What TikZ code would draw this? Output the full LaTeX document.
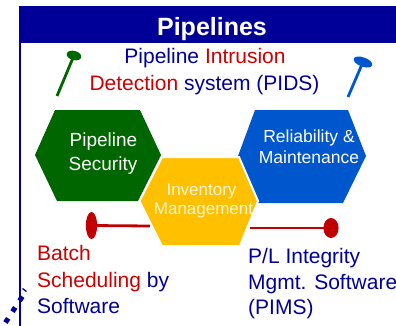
\documentclass[tikz,border=0pt]{standalone}
\usepackage{fontspec}
\setmainfont{Liberation Sans}
\definecolor{navy}{RGB}{0,0,153}
\definecolor{txtred}{RGB}{204,0,0}
\definecolor{pinred}{RGB}{192,0,0}
\definecolor{hexgreen}{RGB}{0,102,0}
\definecolor{hexblue}{RGB}{0,86,204}
\definecolor{hexyellow}{RGB}{255,192,0}
\definecolor{paleyellow}{RGB}{255,246,214}
\begin{document}
\begin{tikzpicture}[x=1pt,y=-1pt,
  lbl/.style={inner sep=0pt, anchor=base, font=\fontsize{21}{25}\selectfont, text=navy},
  lbll/.style={lbl, anchor=base west},
  hextxt/.style={inner sep=0pt, anchor=base, text=white},
  pinline/.style={line width=2.8pt},
  hexfill/.style={line join=miter}]
\useasboundingbox (0,0) rectangle (396,325);
% frame
\fill[navy] (19,6) rectangle (400,42.5);
\draw[navy, line width=1.7pt] (19.8,6) -- (19.8,330);
\node[inner sep=0pt, anchor=base, text=white, font=\bfseries\fontsize{25}{30}\selectfont] (title) at (212,35) {Pipelines};
% top text
\node[lbl] (pids1) at (205,63) {Pipeline \textcolor{txtred}{Intrusion}};
\node[lbl] (pids2) at (204.5,90) {\textcolor{txtred}{Detection} system (PIDS)};
% pins top
\coordinate (gpin) at (74,55.5);
\coordinate (gfoot) at (57,96);
\draw[hexgreen, pinline] (gfoot) -- (gpin);
\fill[hexgreen, rotate around={-15:(gpin)}] (gpin) ellipse [x radius=7.5pt, y radius=4.6pt];
\coordinate (bpin) at (363,62);
\coordinate (bfoot) at (348,97);
\draw[hexblue, pinline] (bfoot) -- (bpin);
\fill[hexblue, rotate around={-20:(bpin)}] (bpin) ellipse [x radius=9.8pt, y radius=4.6pt];
% hexagons
\fill[hexgreen] (35,155) -- (55,110) -- (140,110) -- (161,155) -- (138,201) -- (57,201) -- cycle;
\fill[hexblue] (238,156) -- (255,110) -- (348,110) -- (366,156) -- (343,203) -- (258,203) -- cycle;
% red pins
\coordinate (lpin) at (91.5,225.5);
\coordinate (lend) at (150,226);
\coordinate (rpin) at (331,228);
\coordinate (rend) at (250,228);
\draw[pinred, pinline] (lpin) -- (lend);
\fill[pinred] (lpin) ellipse [x radius=5.6pt, y radius=13.6pt];
\draw[pinred, pinline] (rend) -- (rpin);
\fill[pinred] (rpin) ellipse [x radius=7.6pt, y radius=10pt];
% yellow hexagon
\filldraw[fill=hexyellow, draw=white, line width=2pt, line join=miter] (139.5,201) -- (162,157) -- (239,157) -- (258,201) -- (240,246) -- (162,246) -- cycle;
% hexagon texts
\node[hextxt, font=\fontsize{19}{23}\selectfont] (sec1) at (103.5,146) {Pipeline};
\node[hextxt, font=\fontsize{19}{23}\selectfont] (sec2) at (103,170) {Security};
\node[hextxt, font=\fontsize{17.5}{21}\selectfont] (rel1) at (309,142) {Reliability \&};
\node[hextxt, font=\fontsize{17.5}{21}\selectfont] (rel2) at (309,163) {Maintenance};
\node[hextxt, text=paleyellow, font=\fontsize{17}{20}\selectfont] (inv1) at (201.5,195.5) {Inventory};
\node[hextxt, text=paleyellow, font=\fontsize{17}{20}\selectfont] (inv2) at (203.5,214.5) {Management};
% bottom texts
\node[lbll] (batch1) at (37,260) {\textcolor{txtred}{Batch}};
\node[lbll] (batch2) at (37,287) {\textcolor{txtred}{Scheduling} by};
\node[lbll] (batch3) at (37,313) {Software};
\node[lbll] (pims1) at (248,263) {P/L Integrity};
\node[lbll] (pims2) at (248,289) {Mgmt. Software};
\node[lbll] (pims3) at (248,314.5) {(PIMS)};
% dotted line bottom-left
\coordinate (dA) at (22.3,296.5);
\coordinate (dB) at (0,331);
\draw[navy, line width=5pt, dash pattern=on 5pt off 8pt] (dA) -- (dB);
\coordinate (tA) at (22.5,288.5);
\coordinate (tB) at (26.5,291.5);
\draw[navy, line width=1.3pt] (tA) -- (tB);
\end{tikzpicture}
\end{document}
